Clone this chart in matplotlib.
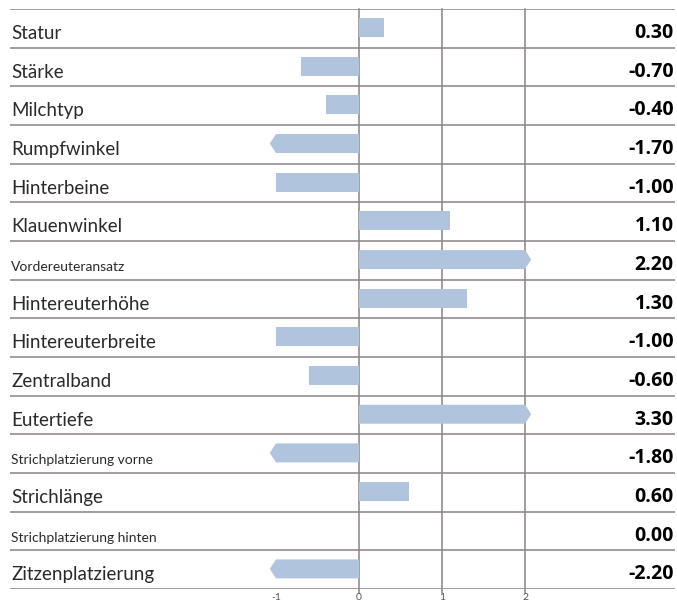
import matplotlib
matplotlib.use("Agg")
import matplotlib.pyplot as plt
from matplotlib.patches import Polygon

labels = ["Statur", "Stärke", "Milchtyp", "Rumpfwinkel", "Hinterbeine",
          "Klauenwinkel", "Vordereuteransatz", "Hintereuterhöhe",
          "Hintereuterbreite", "Zentralband", "Eutertiefe",
          "Strichplatzierung vorne", "Strichlänge",
          "Strichplatzierung hinten", "Zitzenplatzierung"]
values = [0.30, -0.70, -0.40, -1.70, -1.00, 1.10, 2.20, 1.30, -1.00,
          -0.60, 3.30, -1.80, 0.60, 0.00, -2.20]
small_labels = ["Vordereuteransatz", "Strichplatzierung vorne",
                "Strichplatzierung hinten"]
ticks = [-1, 0, 1, 2]
clip_lo, clip_hi = -1.0, 2.0

bar_color = "#b0c4de"
line_color = "#8c8282"
text_color = "#2a2a2a"

plt.rcParams['font.family'] = ['Lato', 'DejaVu Sans']

W, H = 677, 602
fig = plt.figure(figsize=(W / 100, H / 100), dpi=100)
left, right = 10 / W, 675 / W
bottom, top = (H - 589) / H, (H - 9) / H
ax = fig.add_axes([left, bottom, right - left, top - bottom])

# x scale: 0 at px 359, 83 px per unit
ax.set_xlim((10 - 359) / 83, (675 - 359) / 83)
n = len(labels)
ax.set_ylim(n, 0)

for i in range(n + 1):
    ax.axhline(i, color=line_color, lw=1.1, zorder=1)
for t in ticks:
    if t != -1:
        ax.plot([t, t], [0, n + 0.1], color=line_color, lw=1.1, zorder=1,
                clip_on=False)
    ax.text(t, n + 0.22, str(t), ha='center', va='center', fontsize=7.5,
            color='#555555', clip_on=False)

tip = 0.075
h = 0.49
for i, (lab, v) in enumerate(zip(labels, values)):
    c = i + 0.48
    y0, y1 = c - h / 2, c + h / 2
    if v > clip_hi:
        pts = [(0, y0), (clip_hi, y0), (clip_hi + tip, c), (clip_hi, y1), (0, y1)]
    elif v < clip_lo:
        pts = [(0, y0), (clip_lo, y0), (clip_lo - tip, c), (clip_lo, y1), (0, y1)]
    else:
        pts = [(0, y0), (v, y0), (v, y1), (0, y1)]
    ax.add_patch(Polygon(pts, closed=True, facecolor=bar_color,
                         edgecolor='none', zorder=2))

    fs = 10 if lab in small_labels else 13.5
    ax.text(0.0015, i + 0.78, lab, transform=ax.get_yaxis_transform(),
            ha='left', va='baseline', fontsize=fs, color=text_color)
    ax.text(0.998, i + 0.75, f"{v:.2f}", transform=ax.get_yaxis_transform(),
            ha='right', va='baseline', fontsize=14, color='black',
            fontweight='bold', family=['Open Sans', 'DejaVu Sans'])

ax.set_xticks([])
ax.set_yticks([])
for s in ax.spines.values():
    s.set_visible(False)

fig.savefig("out.png", dpi=100)
